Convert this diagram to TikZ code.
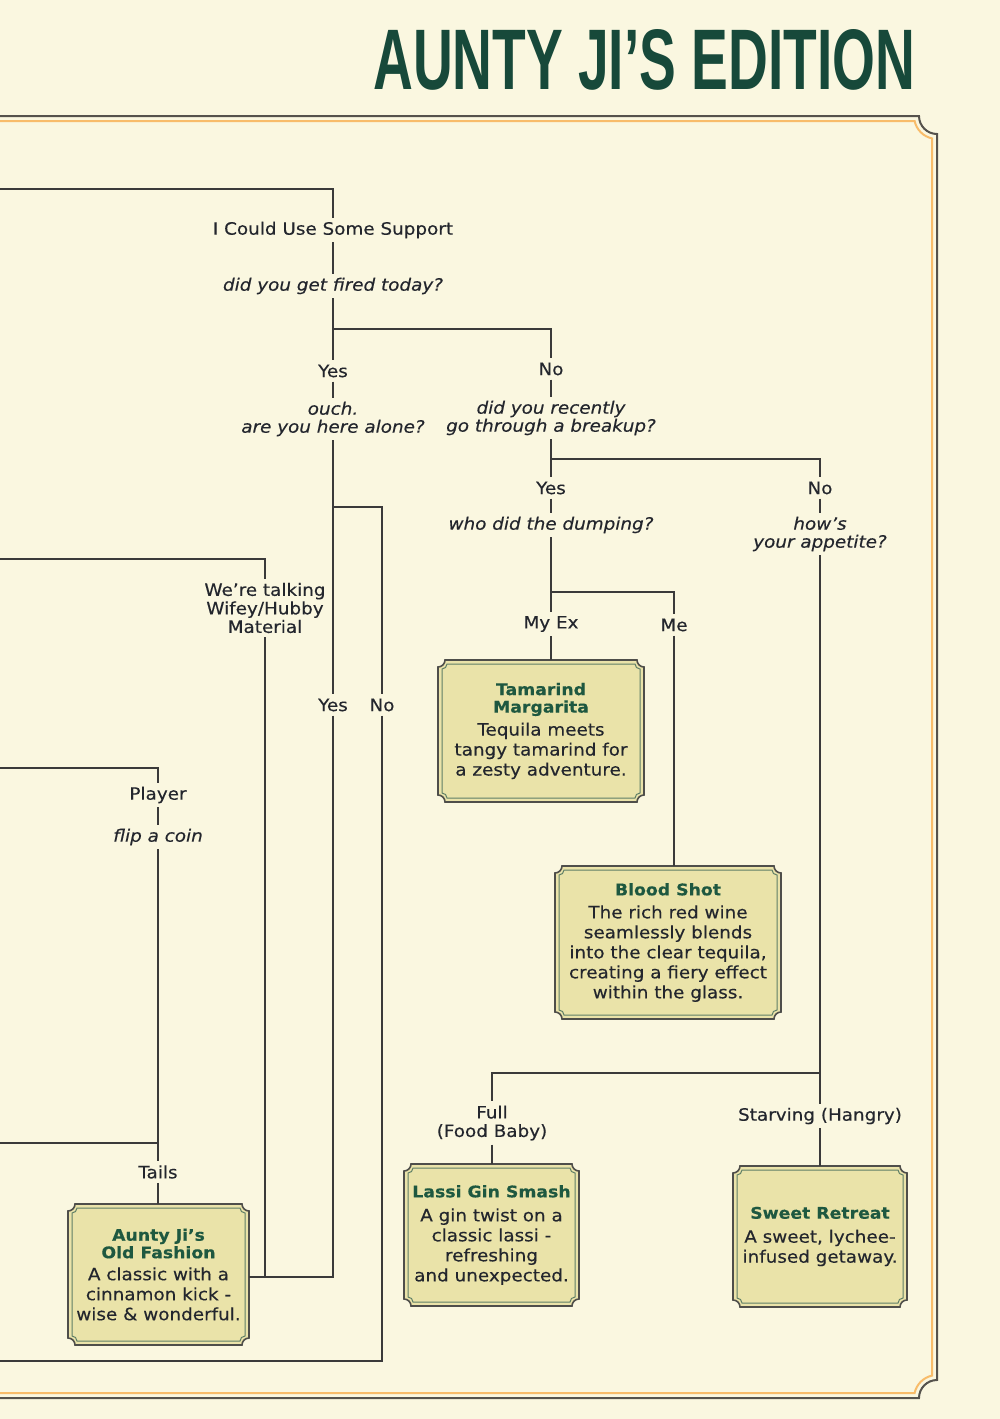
\documentclass[tikz,border=0pt]{standalone}
\usepackage{fontspec}
\setmainfont{DejaVu Sans}[FakeStretch=1.08, FakeBold=0.35]
\newfontfamily\titlefont{Liberation Sans}
\usetikzlibrary{calc}
\definecolor{bg}{HTML}{FAF7E0}
\definecolor{ink}{HTML}{23262D}
\definecolor{ttl}{HTML}{17493A}
\definecolor{dgreen}{HTML}{1E5840}
\definecolor{boxfill}{HTML}{EAE3A9}
\definecolor{boxedge}{HTML}{4E4E4A}
\definecolor{boxinner}{HTML}{5F7F66}
\definecolor{wirec}{HTML}{3A3A3A}
\definecolor{frameo}{HTML}{55524C}
\definecolor{orng}{HTML}{F8BC6A}

\newcommand\notchshape[6]{\path[#6] (#1+#5,#2) -- (#3-#5,#2) .. controls (#3-#5,#2+0.552*#5) and (#3-0.552*#5,#2+#5) .. (#3,#2+#5) -- (#3,#4-#5) .. controls (#3-0.552*#5,#4-#5) and (#3-#5,#4-0.552*#5) .. (#3-#5,#4) -- (#1+#5,#4) .. controls (#1+#5,#4-0.552*#5) and (#1+0.552*#5,#4-#5) .. (#1,#4-#5) -- (#1,#2+#5) .. controls (#1+0.552*#5,#2+#5) and (#1+#5,#2+0.552*#5) .. (#1+#5,#2) -- cycle;}
\newcommand\drinkframe[4]{%
  \notchshape{#1}{#2}{#3}{#4}{7}{fill=boxfill,draw=boxedge,line width=1.6pt}%
  \notchshape{#1+4}{#2+4}{#3-4}{#4-4}{5}{draw=boxinner,line width=1pt}}
\newcommand\dt[1]{{\fontsize{16}{17.5}\selectfont\bfseries\color{dgreen}#1}}

\tikzset{
  lbl/.style={font=\fontsize{17}{18.5}\selectfont, text=ink, align=center, inner sep=4pt},
  qst/.style={font=\fontsize{17}{18}\selectfont\itshape, text=ink, align=center, inner sep=4pt},
  drink/.style={font=\fontsize{17}{20}\selectfont, text=ink, align=center, inner sep=0pt},
  wire/.style={draw=wirec, line width=1.3pt},
}

\begin{document}
\begin{tikzpicture}[x=1pt,y=-1pt]
\useasboundingbox (0,0) rectangle (1000,1419);
\fill[bg] (0,0) rectangle (1000,1419);

% frame
\draw[draw=frameo, line width=2pt] (0,116) -- (919,116) .. controls (919,125.9) and (927.1,134) .. (937,134) -- (937,1380) .. controls (927.1,1380) and (919,1388.1) .. (919,1398) -- (0,1398);
\draw[draw=orng, line width=2pt] (0,121) -- (914.6,121) .. controls (916.5,129.7) and (923.3,136.5) .. (932,138.4) -- (932,1375.6) .. controls (923.3,1377.5) and (916.5,1384.3) .. (914.6,1393) -- (0,1393);

% title
\node[anchor=south west, inner sep=0pt, text=ttl] (title) at (373,91) {\resizebox{542pt}{60pt}{\titlefont\bfseries AUNTY JI’S EDITION}};

% drink boxes
\drinkframe{438}{660}{644}{802}
\drinkframe{555}{866}{781}{1019}
\drinkframe{404}{1164}{579}{1306}
\drinkframe{733}{1166}{907}{1307}
\drinkframe{68}{1204}{249}{1345}

\node[drink, minimum width=206pt, minimum height=142pt] (tam) at (541,731)
  {\dt{Tamarind}\\[-2.5pt]\dt{Margarita}\\[3pt]Tequila meets\\tangy tamarind for\\a zesty adventure.};
\node[drink, minimum width=226pt, minimum height=153pt] (blood) at (668,942.5)
  {\dt{Blood Shot}\\[3pt]The rich red wine\\seamlessly blends\\into the clear tequila,\\creating a fiery effect\\within the glass.};
\node[drink, minimum width=175pt, minimum height=142pt] (lassi) at (491.5,1235)
  {\dt{Lassi Gin Smash}\\[4pt]A gin twist on a\\classic lassi -\\refreshing\\and unexpected.};
\node[drink, minimum width=174pt, minimum height=141pt] (sweet) at (820,1236.5)
  {\dt{Sweet Retreat}\\[4pt]A sweet, lychee-\\infused getaway.};
\node[drink, minimum width=181pt, minimum height=141pt] (ajof) at (158.5,1274.5)
  {\dt{Aunty Ji’s}\\[-2.5pt]\dt{Old Fashion}\\[2pt]A classic with a\\cinnamon kick -\\wise \& wonderful.};

% labels
\node[lbl] (sup) at (333,230) {I Could Use Some Support};
\node[qst] (fired) at (333,286) {did you get fired today?};
\node[lbl] (yes1) at (333,371) {Yes};
\node[lbl] (no1) at (551,369) {No};
\node[qst] (alone) at (333,419) {ouch.\\are you here alone?};
\node[qst] (breakup) at (551,418) {did you recently\\go through a breakup?};
\node[lbl] (yes3) at (551,488) {Yes};
\node[lbl] (no3) at (820,488) {No};
\node[qst] (dump) at (551,525) {who did the dumping?};
\node[qst] (appetite) at (820,534) {how’s\\your appetite?};
\node[lbl] (myex) at (551,624) {My Ex};
\node[lbl] (me) at (674,625) {Me};
\node[lbl] (wifey) at (265,608) {We’re talking\\Wifey/Hubby\\Material};
\node[lbl] (yes2) at (333,705) {Yes};
\node[lbl] (no2) at (382,705) {No};
\node[lbl] (player) at (158,795) {Player};
\node[qst] (flip) at (158,837) {flip a coin};
\node[lbl] (tails) at (158,1172) {Tails};
\node[lbl] (full) at (492,1123) {Full\\(Food Baby)};
\node[lbl] (starv) at (820,1116) {Starving (Hangry)};

% junctions and free ends
\coordinate (e1) at (0,189);
\coordinate (e2) at (0,559);
\coordinate (e3) at (0,768);
\coordinate (e4) at (0,1143);
\coordinate (e5) at (0,1361);
\coordinate (j1) at (551,329);
\coordinate (j2) at (333,507);
\coordinate (j3) at (820,459);
\coordinate (j5) at (674,592);
\coordinate (j6) at (492,1073);
\coordinate (j7) at (265,1277);
\coordinate (j8) at (158,1143);

% connectors
\draw[wire] (e1) -| (sup);
\draw[wire] (sup) -- (fired);
\draw[wire] (fired) -- (yes1);
\draw[wire] (fired |- j1) -- (j1) -- (no1);
\draw[wire] (yes1) -- (alone);
\draw[wire] (no1) -- (breakup);
\draw[wire] (alone) -- (yes2);
\draw[wire] (j2) -| (no2);
\draw[wire] (breakup) -- (yes3);
\draw[wire] (breakup |- j3) -- (j3) -- (no3);
\draw[wire] (yes3) -- (dump);
\draw[wire] (no3) -- (appetite);
\draw[wire] (dump) -- (myex);
\draw[wire] (dump |- j5) -- (j5) -- (me);
\draw[wire] (myex) -- (myex |- tam.north);
\draw[wire] (me) -- (me |- blood.north);
\draw[wire] (appetite) -- (starv);
\draw[wire] (appetite |- j6) -- (j6) -- (full);
\draw[wire] (full) -- (full |- lassi.north);
\draw[wire] (starv) -- (sweet);
\draw[wire] (e2) -| (wifey);
\draw[wire] (wifey) -- (j7);
\draw[wire] (yes2) |- (j7) -- (ajof.east |- j7);
\draw[wire] (no2) |- (e5);
\draw[wire] (e3) -| (player);
\draw[wire] (player) -- (flip);
\draw[wire] (flip) -- (tails);
\draw[wire] (e4) -- (j8);
\draw[wire] (tails) -- (tails |- ajof.north);
\end{tikzpicture}
\end{document}
